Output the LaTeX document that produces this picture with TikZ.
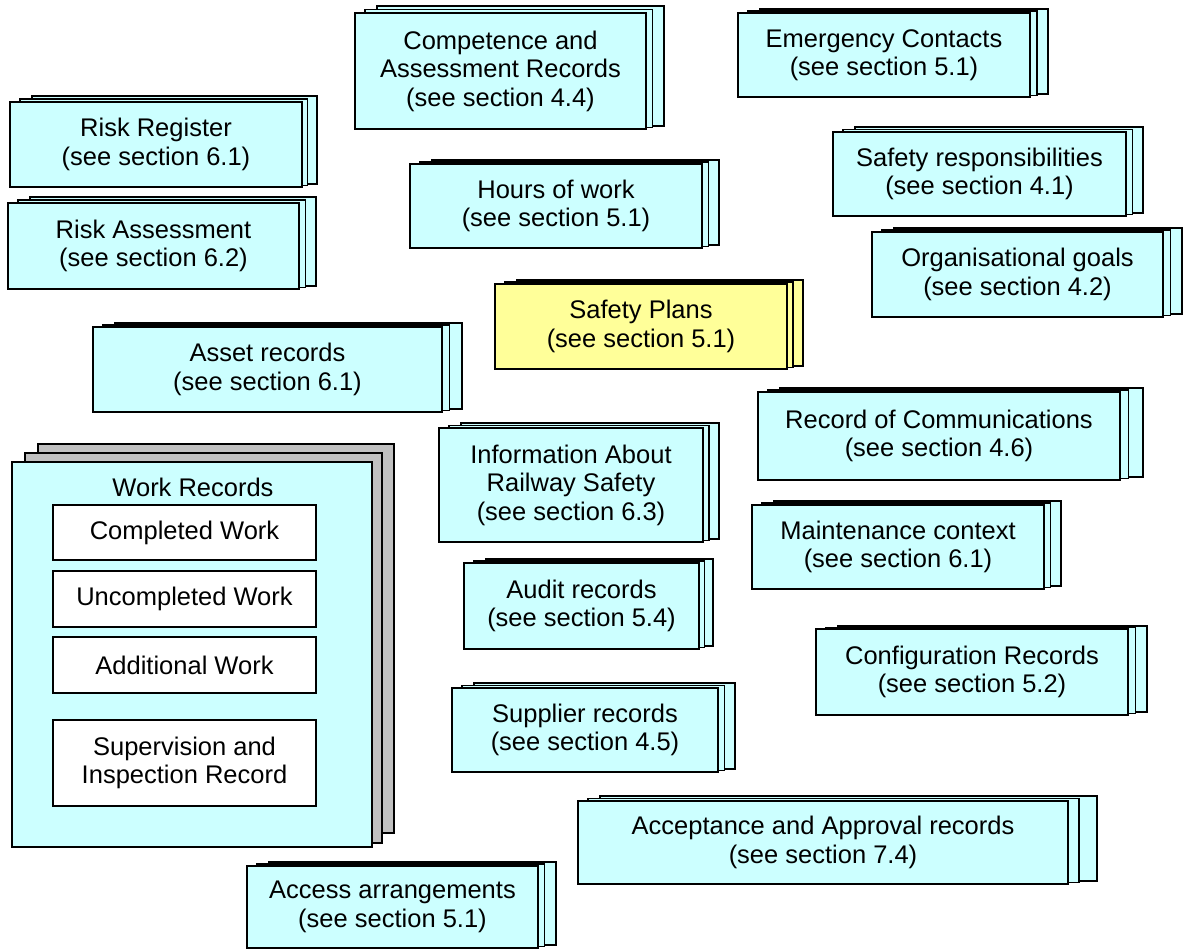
\documentclass[tikz,border=0pt]{standalone}
\usepackage{fontspec}
\setmainfont{Liberation Sans}
\definecolor{boxcyan}{HTML}{CCFFFF}
\definecolor{boxyellow}{HTML}{FFFF99}
\definecolor{boxgray}{HTML}{C0C0C0}
\tikzset{
  layer/.style={draw=black,line width=1.3pt},
  frontbox/.style={draw=black,line width=1.3pt,align=center,inner sep=0pt,
    font=\fontsize{25.5}{28.5}\selectfont},
  innerbox/.style={draw=black,line width=1.3pt,fill=white,align=center,inner sep=0pt,
    font=\fontsize{25.5}{28.5}\selectfont},
  plain/.style={align=center,inner sep=0pt,font=\fontsize{25.5}{28.5}\selectfont}
}
\def\stkcol{boxcyan}
% #1 name, #2 x1, #3 y1, #4 x2, #5 y2, #6 back right, #7 back top, #8 text
\newcommand\stk[8]{%
  \pgfmathsetmacro\stkmx{#4+0.38*(#6-#4)}%
  \pgfmathsetmacro\stkmy{(#3+#7)/2}%
  \draw[layer,fill=\stkcol] (#2+22,#7) rectangle (#6,#5-3);
  \draw[layer,fill=\stkcol] (#2+10,\stkmy) rectangle (\stkmx,#5-1.5);
  \node[frontbox,fill=\stkcol,minimum width={#4-#2},minimum height={#5-#3}]
    (#1) at ({(#2+#4)/2},{(#3+#5)/2}) {#8};
}
\newcommand\ibox[6]{%
  \node[innerbox,minimum width={#4-#2},minimum height={#5-#3}]
    (#1) at ({(#2+#4)/2},{(#3+#5)/2}) {#6};
}
\begin{document}
\begin{tikzpicture}[x=1pt,y=-1pt]
\useasboundingbox (0,0) rectangle (1191,950);
\stk{riskreg}{10}{102}{302}{187}{317}{96}{Risk Register\\(see section 6.1)}
\stk{riskass}{8}{203}{299}{289}{316}{197}{Risk Assessment\\(see section 6.2)}
\stk{compet}{355}{13}{646}{129}{664}{6}{Competence and\\Assessment Records\\(see section 4.4)}
\stk{emerg}{738}{13}{1030}{97}{1048}{9}{Emergency Contacts\\(see section 5.1)}
\stk{safresp}{833}{132}{1126}{216}{1143}{127}{Safety responsibilities\\(see section 4.1)}
\stk{orggoals}{872}{232}{1163}{317}{1182}{228}{Organisational goals\\(see section 4.2)}
\stk{hours}{410}{164}{702}{248}{719}{160}{Hours of work\\(see section 5.1)}
\def\stkcol{boxyellow}
\stk{safplans}{495}{284}{787}{369}{803}{280}{Safety Plans\\(see section 5.1)}
\def\stkcol{boxcyan}
\stk{asset}{93}{327}{442}{412}{462}{323}{Asset records\\(see section 6.1)}
\stk{inforail}{439}{428}{703}{542}{719}{423}{Information About\\Railway Safety\\(see section 6.3)}
\stk{audit}{464}{563}{699}{649}{713}{559}{Audit records\\(see section 5.4)}
\stk{supplier}{452}{688}{718}{772}{735}{683}{Supplier records\\(see section 4.5)}
\stk{recomm}{758}{392}{1120}{480}{1143}{388}{Record of Communications\\(see section 4.6)}
\stk{maint}{752}{505}{1044}{589}{1061}{501}{Maintenance context\\(see section 6.1)}
\stk{config}{816}{629}{1128}{715}{1147}{626}{Configuration Records\\(see section 5.2)}
\stk{accept}{578}{801}{1068}{884}{1097}{796}{Acceptance and Approval records\\(see section 7.4)}
\stk{access}{247}{866}{538}{948}{556}{862}{Access arrangements\\(see section 5.1)}
% Work records stack
\draw[layer,fill=boxgray] (38,444) rectangle (394,833);
\draw[layer,fill=boxgray] (25,453) rectangle (382,843);
\node[frontbox,fill=boxcyan,minimum width=360,minimum height=385] (work) at (192,654.5) {};
\node[plain] (worktitle) at (193,487) {Work Records};
\ibox{completed}{53}{505}{316}{560}{Completed Work}
\ibox{uncompleted}{53}{571}{316}{627}{Uncompleted Work}
\ibox{additional}{53}{637}{316}{693}{Additional Work}
\ibox{supervision}{53}{720}{316}{806}{Supervision and\\Inspection Record}
\end{tikzpicture}
\end{document}
